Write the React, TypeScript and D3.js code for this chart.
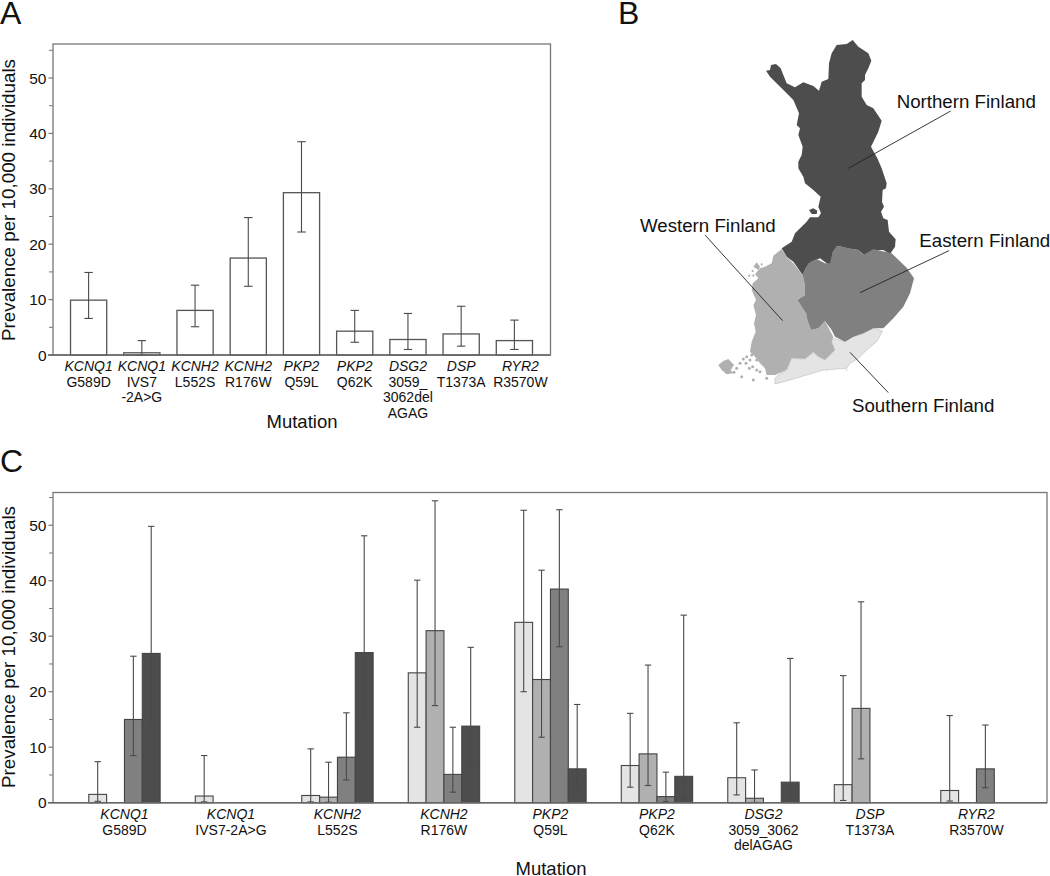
import React from "react";
import * as d3 from "d3";

const genesA = ["KCNQ1","KCNQ1","KCNH2","KCNH2","PKP2","PKP2","DSG2","DSP","RYR2"];
const mutationLinesA = [["G589D"],["IVS7","-2A>G"],["L552S"],["R176W"],["Q59L"],["Q62K"],["3059_","3062del","AGAG"],["T1373A"],["R3570W"]];
const mutationLinesC = [["G589D"],["IVS7-2A>G"],["L552S"],["R176W"],["Q59L"],["Q62K"],["3059_3062","delAGAG"],["T1373A"],["R3570W"]];
const valuesA = [9.9,0.4,8.05,17.5,29.3,4.3,2.8,3.8,2.6];
const upperA = [14.9,2.6,12.6,24.8,38.5,8.05,7.5,8.8,6.3];
const lowerA = [6.6,0,5.1,12.4,22.2,2.3,1.0,1.6,1.0];

const regions = ["Southern","Western","Eastern","Northern"];
const regionColors = ["#e4e4e4","#b0b0b0","#808080","#4d4d4d"];
// null = no carriers in the region
const southV = [1.5,1.2,1.3,23.4,32.5,6.7,4.5,3.25,2.2];
const southHi = [7.4,8.5,9.7,40.1,52.7,16.1,14.4,22.9,15.7];
const southLo = [0.25,0.15,0.15,13.6,20,2.8,1.4,0.4,0.3];
const westV = [null,null,1.0,31,22.2,8.8,0.8,17,null];
const westHi = [null,null,7.3,54.4,41.9,24.8,5.9,36.2,null];
const westLo = [null,null,0.1,17.5,11.8,3.1,0.05,7.9,null];
const eastV = [15,null,8.2,5.1,38.5,1.1,null,null,6.1];
const eastHi = [26.4,null,16.2,13.6,52.8,5.5,null,null,14];
const eastLo = [8.5,null,4.1,1.9,28.1,0.2,null,null,2.7];
const northV = [26.9,null,27.05,13.8,6.1,4.75,3.7,null,null];
const northHi = [49.8,null,48.1,28,17.7,33.8,26,null,null];
const northLo = [14.4,null,15.2,6.7,2.1,0.6,0.5,null,null];
const seriesC = [
  { v: southV, hi: southHi, lo: southLo },
  { v: westV, hi: westHi, lo: westLo },
  { v: eastV, hi: eastHi, lo: eastLo },
  { v: northV, hi: northHi, lo: northLo },
];

const yMajor = [0,10,20,30,40,50];
const yMinor = [5,15,25,35,45,55];
const FONT = "'Liberation Sans', Arial, sans-serif";
const TXT = "#111";
const AXIS = "#777";

type P = [number,number];
// Northern outline, in its own map units
const northernShape: P[] = [[48,122],[60,120],[63,105],[78,102],[92,115],[100,135],[110,160],[135,172],[160,157],[190,168],[207,182],[215,155],[235,147],[237,100],[245,70],[260,45],[290,42],[308,30],[325,50],[355,70],[364,92],[355,115],[345,135],[345,150],[335,160],[335,200],[350,225],[370,235],[395,272],[385,305],[363,350],[382,385],[395,415],[410,460],[408,475],[398,480],[396,515],[402,530],[393,545],[400,565],[413,570],[417,605],[437,628],[435,650],[420,672],[400,660],[375,660],[345,678],[325,660],[290,655],[265,648],[248,670],[242,705],[230,700],[210,685],[185,695],[170,710],[158,735],[130,695],[110,680],[95,655],[125,635],[135,610],[170,575],[180,562],[205,562],[213,550],[205,530],[212,500],[190,480],[165,460],[160,440],[145,415],[145,395],[155,375],[158,350],[145,315],[150,295],[140,285],[147,250],[130,210],[110,190],[85,165],[60,140]];
const northIsle: P[] = [[177,540],[190,535],[202,542],[200,552],[185,552]];
// Southern regions, in the same kind of units
const easternShape: P[] = [[278,120],[295,85],[320,72],[345,85],[360,85],[368,50],[380,32],[410,38],[445,45],[460,60],[490,42],[525,50],[545,55],[590,98],[612,130],[600,175],[580,215],[550,250],[520,280],[490,280],[460,295],[430,305],[405,320],[375,305],[365,285],[345,258],[325,280],[303,285],[292,255],[288,235],[262,195],[285,180],[285,150]];
const westernShape: P[] = [[215,42],[190,62],[185,85],[165,95],[150,100],[135,118],[145,130],[128,145],[125,165],[138,195],[130,210],[138,240],[132,265],[137,290],[125,320],[120,350],[135,365],[150,385],[165,400],[170,420],[195,420],[230,405],[245,370],[285,372],[310,352],[325,365],[345,375],[375,345],[365,320],[370,305],[345,258],[325,280],[303,285],[292,255],[288,235],[262,195],[285,180],[285,150],[278,120],[250,85],[230,65]];
const southernShape: P[] = [[370,310],[405,320],[430,305],[460,295],[490,280],[518,288],[500,320],[470,345],[445,370],[420,385],[410,400],[380,402],[340,405],[290,420],[240,435],[195,447],[195,430],[205,420],[230,405],[245,370],[285,372],[310,352],[325,365],[345,375],[375,345],[365,320]];
const alandShape: P[] = [[25,390],[40,378],[55,372],[72,390],[62,405],[70,415],[50,418],[35,405]];
const kvarkenShape: P[] = [[130,95],[140,82],[150,95],[145,105]];
const isletsWest = [[118,122],[130,122],[135,145],[128,108],[155,88]];
const isletsSouth = [[100,372],[90,385],[80,400],[110,365],[120,375],[128,395],[118,400],[140,405],[150,410],[95,425],[130,435],[170,430],[180,410],[125,360],[140,375],[108,385],[72,412]];
const isletsGulf = [[410,405],[350,407],[320,410]];

const mxN = d3.scaleLinear().domain([0,480]).range([750,910]);
const myN = d3.scaleLinear().domain([0,690]).range([30,260]);
const mxS = d3.scaleLinear().domain([0,630]).range([710,920]);
const myS = d3.scaleLinear().domain([0,480]).range([235,395]);
const lineN = d3.line<P>().x(d => mxN(d[0])).y(d => myN(d[1])).curve(d3.curveLinearClosed);
const lineS = d3.line<P>().x(d => mxS(d[0])).y(d => myS(d[1])).curve(d3.curveLinearClosed);
const mx = d3.scaleLinear().domain([0,1320]).range([610,1050]);
const my = d3.scaleLinear().domain([0,1290]).range([0,430]);

const calloutLabels = ["Northern Finland","Eastern Finland","Western Finland","Southern Finland"];
const calloutText = [[860,323],[928,740],[90,695],[726,1235]];
const calloutLines = [[1022,333,715,505],[1017,752,750,878],[285,705,518,962],[835,1178,720,1057]];

function YAxis({ y, left, title, titleY }: any) {
  return (
    <g fontFamily={FONT} fill={TXT}>
      {yMajor.map(t => (
        <g key={t}>
          <line x1={left-4.5} x2={left} y1={y(t)} y2={y(t)} stroke={AXIS} strokeWidth={1.2}/>
          <text x={left-6.5} y={y(t)+5.5} textAnchor="end" fontSize={15.5}>{t}</text>
        </g>
      ))}
      {yMinor.map(t => (
        <line key={t} x1={left-4} x2={left} y1={y(t)} y2={y(t)} stroke={AXIS} strokeWidth={1}/>
      ))}
      <text transform={`translate(14.5,${titleY}) rotate(-90)`} textAnchor="middle" fontSize={18.8}>{title}</text>
    </g>
  );
}

function ErrorBar({ x, y, hi, lo, cap }: any) {
  return (
    <g stroke="#4a4a4a" strokeWidth={1.1}>
      <line x1={x} x2={x} y1={y(hi)} y2={y(lo)}/>
      <line x1={x-cap} x2={x+cap} y1={y(hi)} y2={y(hi)}/>
      <line x1={x-cap} x2={x+cap} y1={y(lo)} y2={y(lo)}/>
    </g>
  );
}

function CatLabel({ x, gene, lines, y0 }: any) {
  return (
    <g fontFamily={FONT} fill={TXT} fontSize={14} textAnchor="middle">
      <text x={x} y={y0} fontStyle="italic">{gene}</text>
      {lines.map((l: string, i: number) => <text key={i} x={x} y={y0+15.7*(i+1)}>{l}</text>)}
    </g>
  );
}

export default function App() {
  const idx = d3.range(9).map(String);
  const xA = d3.scaleBand().domain(idx).range([62,541]).paddingInner(0.32).paddingOuter(0.16);
  const yA = d3.scaleLinear().domain([0,55]).range([355,50.3]);
  const xC = d3.scaleBand().domain(idx).range([71.2,1029.7]).paddingInner(0.33).paddingOuter(0.165);
  const xCi = d3.scaleBand().domain(regions).range([0,xC.bandwidth()]);
  const yC = d3.scaleLinear().domain([0,55]).range([802.7,497.5]);

  return (
    <svg width={1050} height={876} style={{ position:"absolute", left:0, top:0, display:"block", background:"#fff" }}>
      <g fontFamily={FONT} fill={TXT} fontSize={32}>
        <text x={0} y={24}>A</text>
        <text x={618} y={24}>B</text>
        <text x={0} y={471.5}>C</text>
      </g>

      {/* Panel A */}
      <rect x={53} y={44} width={497.5} height={311} fill="none" stroke={AXIS} strokeWidth={1.3}/>
      <YAxis y={yA} left={53} title="Prevalence per 10,000 individuals" titleY={200}/>
      {valuesA.map((v,i) => {
        const x = xA(String(i))!; const w = xA.bandwidth();
        const labelX = x + w/2 + (i === valuesA.length-1 ? 6 : 0);
        return (
          <g key={i}>
            <rect x={x} y={yA(v)} width={w} height={yA(0)-yA(v)} fill="#fff" stroke="#555" strokeWidth={1.3}/>
            <ErrorBar x={x+w/2} y={yA} hi={upperA[i]} lo={lowerA[i]} cap={4.2}/>
            <CatLabel x={labelX} gene={genesA[i]} lines={mutationLinesA[i]} y0={371}/>
          </g>
        );
      })}
      <line x1={48} x2={550.5} y1={355} y2={355} stroke="#666" strokeWidth={1.4}/>
      <text x={302} y={428} textAnchor="middle" fontFamily={FONT} fontSize={18.5} fill={TXT}>Mutation</text>

      {/* Panel B */}
      <g stroke="none">
        <path d={lineN(northernShape)!} fill={regionColors[3]}/>
        <path d={lineN(northIsle)!} fill={regionColors[3]}/>
        <path d={lineS(westernShape)!} fill={regionColors[1]}/>
        <path d={lineS(alandShape)!} fill={regionColors[1]}/>
        <path d={lineS(kvarkenShape)!} fill={regionColors[1]}/>
        <path d={lineS(southernShape)!} fill={regionColors[0]} stroke="#bbb" strokeWidth={0.6}/>
        <path d={lineS(easternShape)!} fill={regionColors[2]}/>
        {isletsWest.map((p,i) => <circle key={i} cx={mxS(p[0])} cy={myS(p[1])} r={1.1} fill={regionColors[1]}/>)}
        {isletsSouth.map((p,i) => <circle key={i} cx={mxS(p[0])} cy={myS(p[1])} r={1.5} fill={regionColors[1]}/>)}
        {isletsGulf.map((p,i) => <circle key={i} cx={mxS(p[0])} cy={myS(p[1])} r={1} fill={regionColors[0]}/>)}
      </g>
      {calloutLines.map((l,i) => (
        <line key={i} x1={mx(l[0])} y1={my(l[1])} x2={mx(l[2])} y2={my(l[3])} stroke="#222" strokeWidth={0.9}/>
      ))}
      {calloutLabels.map((t,i) => (
        <text key={t} x={mx(calloutText[i][0])} y={my(calloutText[i][1])} fontFamily={FONT} fontSize={18.7} fill={TXT}>{t}</text>
      ))}

      {/* Panel C */}
      <rect x={53} y={492.5} width={994} height={310.2} fill="none" stroke={AXIS} strokeWidth={1.3}/>
      <YAxis y={yC} left={53} title="Prevalence per 10,000 individuals" titleY={647}/>
      {idx.map((c,i) => {
        const gx = xC(c)!;
        return (
          <g key={c}>
            {seriesC.map((s,j) => {
              const v = s.v[i];
              if (v === null) return null;
              const x = gx + xCi(regions[j])!; const w = xCi.bandwidth();
              return (
                <g key={j}>
                  <rect x={x} y={yC(v)} width={w} height={yC(0)-yC(v)} fill={regionColors[j]} stroke="#444" strokeWidth={1.1}/>
                  <ErrorBar x={x+w/2} y={yC} hi={s.hi[i]} lo={s.lo[i]} cap={3.2}/>
                </g>
              );
            })}
            <CatLabel x={gx+xC.bandwidth()/2} gene={genesA[i]} lines={mutationLinesC[i]} y0={819}/>
          </g>
        );
      })}
      <line x1={48} x2={1047} y1={802.7} y2={802.7} stroke="#666" strokeWidth={1.4}/>
      <text x={551} y={875} textAnchor="middle" fontFamily={FONT} fontSize={18.5} fill={TXT}>Mutation</text>
    </svg>
  );
}
